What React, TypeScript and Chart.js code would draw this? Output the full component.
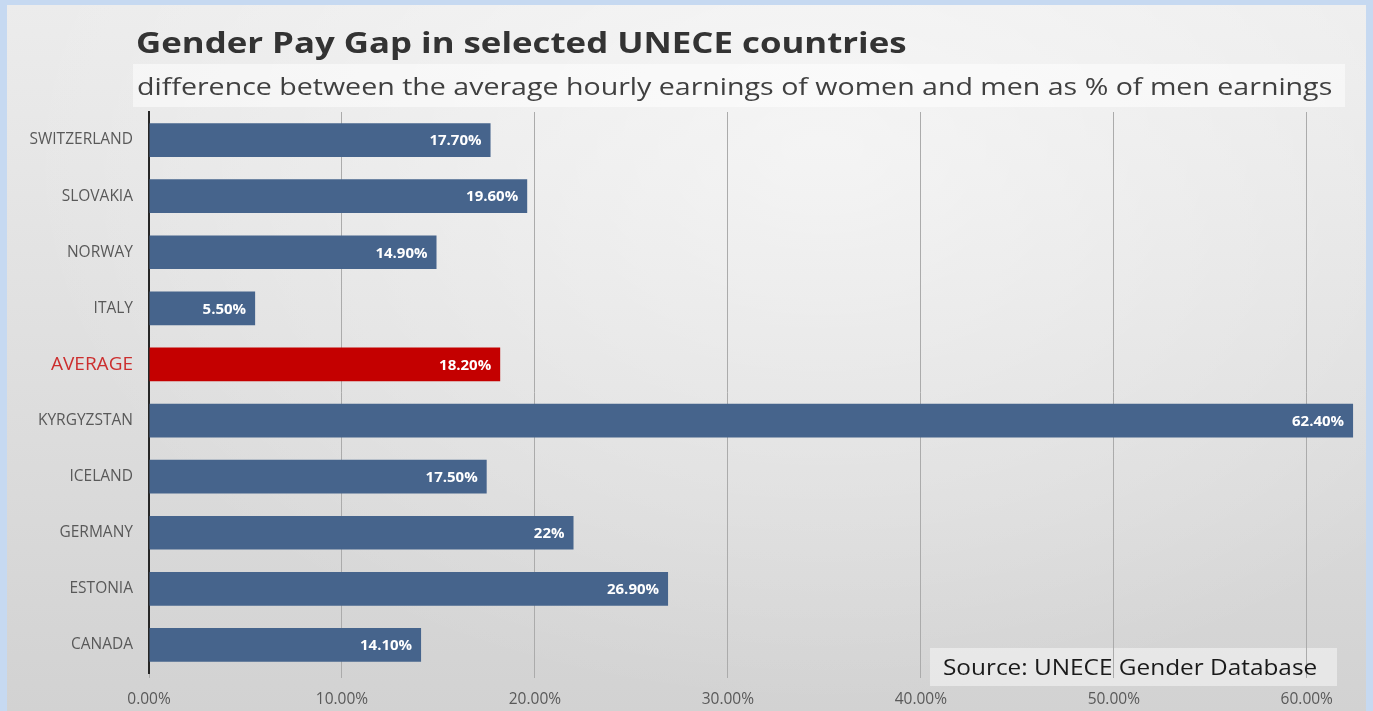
import React, { useEffect, useRef } from 'react';
import { Chart, registerables } from 'chart.js';

Chart.register(...registerables);

const countries = ['SWITZERLAND', 'SLOVAKIA', 'NORWAY', 'ITALY', 'AVERAGE', 'KYRGYZSTAN', 'ICELAND', 'GERMANY', 'ESTONIA', 'CANADA'];
const gapValues = [17.7, 19.6, 14.9, 5.5, 18.2, 62.4, 17.5, 22, 26.9, 14.1];
const valueLabels = ['17.70%', '19.60%', '14.90%', '5.50%', '18.20%', '62.40%', '17.50%', '22%', '26.90%', '14.10%'];
const xTickValues = [0, 10, 20, 30, 40, 50, 60];
const highlightCategory = 'AVERAGE';

const titleText = 'Gender Pay Gap in selected UNECE countries';
const subtitleText = 'difference between the average hourly earnings of women and men as % of men earnings';
const sourceText = 'Source: UNECE Gender Database';

const FONT = '"Open Sans", "Noto Sans", sans-serif';
const BLUE = '#46648c';
const RED = '#c40000';

const barLabelPlugin = {
  id: 'barLabels',
  afterDatasetsDraw(chart: any) {
    const ctx = chart.ctx;
    const meta = chart.getDatasetMeta(0);
    ctx.save();
    ctx.font = `bold 15px ${FONT}`;
    ctx.fillStyle = '#ffffff';
    ctx.textAlign = 'right';
    ctx.textBaseline = 'middle';
    meta.data.forEach((el: any, i: number) => {
      ctx.fillText(valueLabels[i], el.x - 9, el.y + 1);
    });
    ctx.restore();
  },
};

export default function App() {
  const canvasRef = useRef<HTMLCanvasElement | null>(null);

  useEffect(() => {
    if (!canvasRef.current) return;
    const chart = new Chart(canvasRef.current, {
      type: 'bar',
      data: {
        labels: countries,
        datasets: [
          {
            data: gapValues,
            backgroundColor: countries.map((c) => (c === highlightCategory ? RED : BLUE)),
            borderWidth: 0,
            barPercentage: 0.6,
            categoryPercentage: 1,
          },
        ],
      },
      options: {
        indexAxis: 'y',
        responsive: false,
        animation: false,
        layout: { padding: { top: 112, right: 18, left: 0, bottom: 0 } },
        plugins: {
          legend: { display: false },
          tooltip: { enabled: false },
          title: { display: false },
        },
        scales: {
          x: {
            type: 'linear',
            min: 0,
            max: 62.5,
            afterBuildTicks: (scale: any) => {
              scale.ticks = xTickValues.map((v) => ({ value: v }));
            },
            afterFit: (scale: any) => {
              scale.height = 38;
            },
            ticks: {
              padding: 12,
              color: '#595959',
              font: { family: FONT, size: 15.5 },
              callback: (v: any) => Number(v).toFixed(2) + '%',
            },
            grid: { color: '#ababab', lineWidth: 1, tickLength: 5 },
            border: { display: false },
          },
          y: {
            afterFit: (scale: any) => {
              scale.width = 149;
            },
            ticks: {
              padding: 16,
              color: (ctx: any) => (countries[ctx.index] === highlightCategory ? '#cc2e2e' : '#595959'),
              font: (ctx: any) => ({
                family: FONT,
                size: countries[ctx.index] === highlightCategory ? 19 : 15.5,
              }),
            },
            grid: { display: false, drawTicks: false },
            border: { display: true, color: '#262626', width: 2 },
          },
        },
      },
      plugins: [barLabelPlugin],
    });
    return () => chart.destroy();
  }, []);

  const stretched = (scale: number): React.CSSProperties => ({
    transform: `scaleX(${scale})`,
    transformOrigin: 'left center',
  });

  return (
    <div style={{ position: 'absolute', left: 0, top: 0, width: 1373, height: 711, background: '#c6d9f1', overflow: 'hidden' }}>
      <div
        style={{
          position: 'absolute',
          left: 7,
          top: 5,
          width: 1359,
          height: 706,
          background:
            'radial-gradient(ellipse at 60% 20%, rgba(255,255,255,0.55), rgba(255,255,255,0) 70%), linear-gradient(to bottom, #ececec, #d2d2d2)',
        }}
      />
      <div
        style={{
          position: 'absolute',
          left: 133,
          top: 64,
          width: 1212,
          height: 43,
          background: 'rgba(255,255,255,0.5)',
        }}
      />
      <div
        style={{
          position: 'absolute',
          left: 930,
          top: 648,
          width: 407,
          height: 38,
          background: 'rgba(255,255,255,0.45)',
        }}
      />
      <canvas ref={canvasRef} width={1373} height={711} style={{ position: 'absolute', left: 0, top: 0 }} />
      <div
        style={{
          position: 'absolute',
          left: 136,
          top: 24,
          fontFamily: FONT,
          fontWeight: 700,
          fontSize: 29,
          lineHeight: '36px',
          color: '#333333',
          whiteSpace: 'nowrap',
          ...stretched(1.2),
        }}
      >
        {titleText}
      </div>
      <div
        style={{
          position: 'absolute',
          left: 137,
          top: 64,
          fontFamily: FONT,
          fontSize: 24,
          lineHeight: '43px',
          color: '#404040',
          whiteSpace: 'nowrap',
          ...stretched(1.19),
        }}
      >
        {subtitleText}
      </div>
      <div
        style={{
          position: 'absolute',
          left: 943,
          top: 648,
          fontFamily: FONT,
          fontSize: 21,
          lineHeight: '38px',
          color: '#1a1a1a',
          whiteSpace: 'nowrap',
          ...stretched(1.16),
        }}
      >
        {sourceText}
      </div>
    </div>
  );
}
